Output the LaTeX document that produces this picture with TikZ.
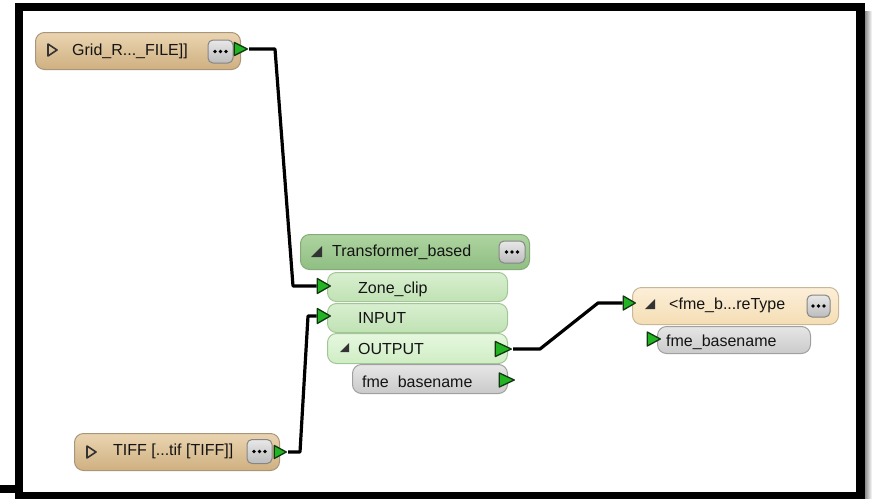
\documentclass[tikz,border=0pt]{standalone}
\usepackage{fontspec}
\setmainfont{Liberation Sans}
\usetikzlibrary{shapes.geometric}
\definecolor{tanT}{HTML}{EAD5B1}
\definecolor{tanB}{HTML}{CFAF80}
\definecolor{tanD}{HTML}{A8957A}
\definecolor{hdrT}{HTML}{AED4A0}
\definecolor{hdrB}{HTML}{8FBE82}
\definecolor{hdrD}{HTML}{86AA7A}
\definecolor{rowT}{HTML}{D8EFCF}
\definecolor{rowB}{HTML}{C0E2B4}
\definecolor{rowD}{HTML}{A3C697}
\definecolor{outT}{HTML}{E6F8DF}
\definecolor{outB}{HTML}{CFEDC4}
\definecolor{gryT}{HTML}{E6E6E6}
\definecolor{gryB}{HTML}{CACACA}
\definecolor{gryD}{HTML}{A0A0A0}
\definecolor{pchT}{HTML}{FCEFD8}
\definecolor{pchB}{HTML}{F4DDB4}
\definecolor{pchD}{HTML}{C9B796}
\definecolor{btnT}{HTML}{E8E8E8}
\definecolor{btnB}{HTML}{BCBCBC}
\definecolor{btnD}{HTML}{858585}
\definecolor{portG}{HTML}{22B422}
\definecolor{portD}{HTML}{123812}
\definecolor{txt}{HTML}{141414}
\definecolor{icon}{HTML}{333333}
\tikzset{
  box/.style={draw, rounded corners=9pt, inner sep=0pt, anchor=north west, line width=1pt},
  tanbox/.style={box, draw=tanD, top color=tanT, bottom color=tanB},
  hdrbox/.style={box, draw=hdrD, top color=hdrT, bottom color=hdrB},
  rowbox/.style={box, draw=rowD, top color=rowT, bottom color=rowB},
  outbox/.style={box, draw=rowD, top color=outT, bottom color=outB},
  grybox/.style={box, draw=gryD, top color=gryT, bottom color=gryB},
  pchbox/.style={box, draw=pchD, top color=pchT, bottom color=pchB},
  btn/.style={draw=btnD, rounded corners=5pt, top color=btnT, bottom color=btnB,
    inner sep=0pt, line width=1pt},
  port/.style={isosceles triangle, isosceles triangle stretches, shape border rotate=0,
    inner sep=0pt, fill=portG, draw=portD, line width=1.3pt, line join=round, anchor=apex},
  lbl/.style={anchor=base west, inner sep=0pt, text=txt},
  wire/.style={line width=3.2pt, black, line join=round},
  openicon/.style={draw=icon, line width=1.6pt, line join=round},
  fillicon/.style={fill=icon},
}
\newcommand\fmebtn[5]{%
  \node[btn, minimum width=#4pt, minimum height=#5pt] (#1) at (#2,#3) {};
  \foreach \dx in {-5.5,0,5.5} \fill[black] ([xshift=\dx pt]#1.center) circle (1.8pt);
}
\begin{document}
\begin{tikzpicture}[x=1pt,y=-1pt,font=\fontsize{16}{18}\selectfont]
\useasboundingbox (0,0) rectangle (872,498);
% frame
\draw[line width=8.5pt] (19,7) rectangle (860.5,496);
\fill (0,485) rectangle (19,493);
\shade[left color=black!45, right color=white] (865,11) rectangle (872,498);

% Grid reader
\node[tanbox, minimum width=205pt, minimum height=37pt] (gridbox) at (35,32) {};
\draw[openicon] (48,44) -- (57,50) -- (48,56) -- cycle;
\node[lbl] (gridtxt) at (72,55) {Grid\_R...\_FILE]]};
\fmebtn{gridbtn}{220.5}{51.5}{25}{23}
\node[port, minimum width=13pt, minimum height=13pt] (gridport) at (249,49) {};

% TIFF reader
\node[tanbox, minimum width=205pt, minimum height=37pt] (tiffbox) at (74,433) {};
\draw[openicon] (87,446) -- (96,452) -- (87,458) -- cycle;
\node[lbl] (tifftxt) at (113,455) {TIFF [...tif [TIFF]]};
\fmebtn{tiffbtn}{259.5}{451.5}{25}{24}
\node[port, minimum width=13pt, minimum height=12pt] (tiffport) at (288,452) {};

% Transformer
\node[hdrbox, minimum width=229pt, minimum height=35pt] (hdrbox) at (300,234) {};
\fill[fillicon] (322,246) -- (322,257) -- (311,257) -- cycle;
\node[lbl] (hdrtxt) at (332,256) {Transformer\_based};
\fmebtn{hdrbtn}{512}{252}{26}{22}

\node[rowbox, minimum width=180pt, minimum height=29pt] (zonebox) at (327,272) {};
\node[lbl] (zonetxt) at (358,293) {Zone\_clip};
\node[port, minimum width=15pt, minimum height=13pt] (zoneport) at (332,286) {};

\node[rowbox, minimum width=180pt, minimum height=29pt] (inbox) at (327,303) {};
\node[lbl] (intxt) at (358,323) {INPUT};
\node[port, minimum width=15pt, minimum height=13pt] (inport) at (332,316) {};

\node[outbox, minimum width=180pt, minimum height=30pt] (outbox) at (327,333) {};
\fill[fillicon] (349,343) -- (349,352) -- (340,352) -- cycle;
\node[lbl] (outtxt) at (358,354) {OUTPUT};
\node[port, minimum width=15pt, minimum height=16pt] (outport) at (513,349) {};

\node[grybox, minimum width=155pt, minimum height=29pt] (basebox) at (352,364) {};
\node[lbl] (basetxt) at (362,387) {fme\ \ basename};
\node[port, minimum width=14pt, minimum height=15pt] (baseport) at (516,380) {};

% attribute node
\node[pchbox, minimum width=206pt, minimum height=37pt] (pchbox) at (632,287) {};
\fill[fillicon] (655,299) -- (655,309) -- (645,309) -- cycle;
\node[lbl] (pchtxt) at (669,309) {<fme\_b...reType};
\fmebtn{pchbtn}{818.5}{306}{23}{22}
\node[port, minimum width=14pt, minimum height=12pt] (pchport) at (637,303) {};

\node[grybox, minimum width=153pt, minimum height=27pt] (fbbox) at (657,326) {};
\node[lbl] (fbtxt) at (666,346) {fme\_basename};
\node[port, minimum width=14pt, minimum height=13pt] (fbport) at (662,339) {};

% connectors
\draw[wire] (gridport.apex) -- (275,49) -- (293,286) -- (zoneport.west);
\draw[wire] (tiffport.apex) -- (300,452) -- (308,316) -- (inport.west);
\draw[wire] (outport.apex) -- (540,349) -- (598,303) -- (pchport.west);
\end{tikzpicture}
\end{document}
